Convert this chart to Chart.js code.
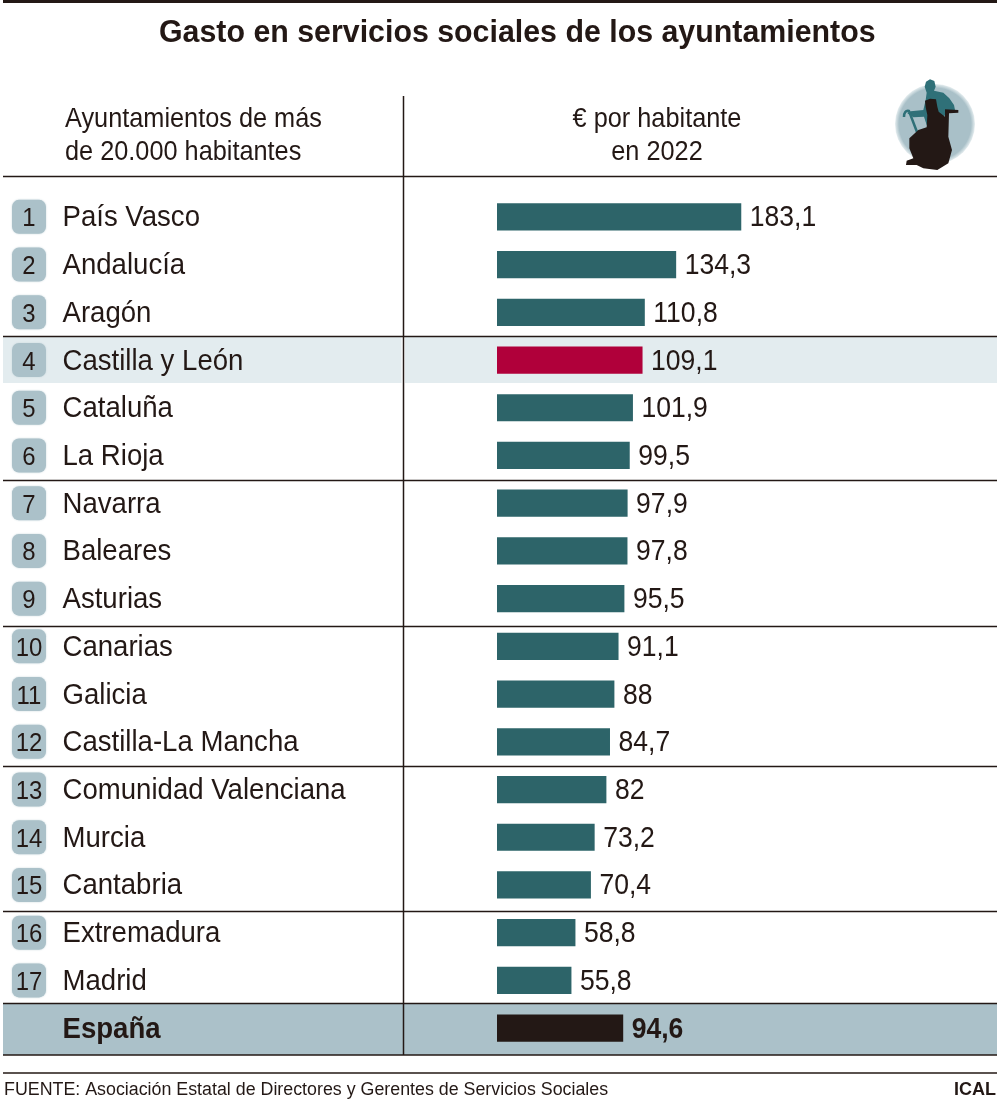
<!DOCTYPE html>
<html>
<head>
<meta charset="utf-8">
<title>Gasto en servicios sociales de los ayuntamientos</title>
<script src="https://cdn.jsdelivr.net/npm/chart.js@4"></script>
<style>
  html, body { margin: 0; padding: 0; background: #fff; }
  #wrap { position: relative; width: 1000px; height: 1103px; }
</style>
</head>
<body>
<div id="wrap"><canvas id="bar-chart" width="1000" height="1103"></canvas></div>
<script>
let ranks = ["1","2","3","4","5","6","7","8","9","10","11","12","13","14","15","16","17",""];
let regions = ["País Vasco","Andalucía","Aragón","Castilla y León","Cataluña","La Rioja","Navarra","Baleares","Asturias","Canarias","Galicia","Castilla-La Mancha","Comunidad Valenciana","Murcia","Cantabria","Extremadura","Madrid","España"];
let gasto = [183.1,134.3,110.8,109.1,101.9,99.5,97.9,97.8,95.5,91.1,88,84.7,82,73.2,70.4,58.8,55.8,94.6];

let teal = "#2d6469";
let red = "#b0003a";
let black = "#231815";
let band = "#abc1c9";
let pale = "#e3ecef";
let fontName = '"Liberation Sans", Arial, sans-serif';

let barColors = regions.map((r) => {
  if (r === "Castilla y León") return red;
  if (r === "España") return black;
  return teal;
});

function formatValue(v) {
  return String(v).replace(".", ",");
}

// the original type is a bit narrower than Liberation Sans
function fitText(ctx, text, x, y, squeeze) {
  ctx.fillText(text, x, y, ctx.measureText(text).width * squeeze);
}

function hline(ctx, y, w) {
  ctx.strokeStyle = black;
  ctx.lineWidth = w;
  ctx.beginPath();
  ctx.moveTo(3, y);
  ctx.lineTo(997, y);
  ctx.stroke();
}

function shape(ctx, pts) {
  ctx.beginPath();
  pts.forEach((p, i) => {
    let x = 880 + p[0] / 3;
    let y = 70 + p[1] / 3;
    if (i === 0) ctx.moveTo(x, y);
    else ctx.lineTo(x, y);
  });
  ctx.closePath();
  ctx.fill();
}

function drawIcon(ctx) {
  let grad = ctx.createRadialGradient(935, 124, 30, 935, 124, 40);
  grad.addColorStop(0, "#a9c0c8");
  grad.addColorStop(0.6, "#a9c0c8");
  grad.addColorStop(1, "#e6eef0");
  ctx.fillStyle = grad;
  ctx.beginPath();
  ctx.arc(935, 124, 40, 0, Math.PI * 2);
  ctx.fill();

  // person pushing the chair
  ctx.fillStyle = "#2f7078";
  shape(ctx, [[138,35],[150,28],[163,33],[167,50],[162,62],[190,68],[208,85],[222,105],[226,125],[200,128],[185,150],[140,165],[132,140],[100,142],[82,130],[92,124],[130,120],[137,90],[140,68],[134,50]]);

  // cane
  ctx.strokeStyle = "#2f7078";
  ctx.lineWidth = 2.5;
  ctx.beginPath();
  ctx.moveTo(904, 117);
  ctx.quadraticCurveTo(904, 110, 909, 111);
  ctx.lineTo(917, 132);
  ctx.stroke();

  // person in the wheelchair
  ctx.fillStyle = black;
  shape(ctx, [[135,92],[150,86],[168,88],[172,110],[176,125],[195,140],[195,118],[235,120],[235,128],[207,130],[205,200],[216,240],[205,280],[172,300],[130,295],[110,285],[78,285],[80,272],[100,265],[88,235],[88,205],[115,180],[140,172],[142,135],[137,112]]);
}

let tablePlugin = {
  id: "tablePlugin",
  beforeDraw(chart) {
    let ctx = chart.ctx;
    ctx.save();
    // bands behind the rows
    ctx.fillStyle = pale;
    ctx.fillRect(3, 337, 398.5, 46);
    ctx.fillRect(405, 337, 592, 46);
    ctx.fillStyle = band;
    ctx.fillRect(3, 1004, 994, 51);

    ctx.fillStyle = black;
    ctx.fillRect(3, 0, 994, 3);

    hline(ctx, 176.5, 1.5);
    [336.5, 480.5, 626.5, 766.5, 911.5].forEach((y) => hline(ctx, y, 1.5));
    hline(ctx, 1003.5, 1.5);
    hline(ctx, 1055, 1.5);
    hline(ctx, 1073, 1.5);

    ctx.lineWidth = 1.5;
    ctx.beginPath();
    ctx.moveTo(403.5, 96);
    ctx.lineTo(403.5, 1055);
    ctx.stroke();

    // rank badges
    let yScale = chart.scales.y;
    ranks.forEach((rank, i) => {
      if (!rank) return;
      let y = yScale.getPixelForValue(i);
      ctx.save();
      ctx.shadowColor = "#c5d5da";
      ctx.shadowBlur = 2;
      ctx.fillStyle = band;
      ctx.beginPath();
      ctx.roundRect(12, y - 17, 34, 34, 7);
      ctx.fill();
      ctx.restore();
      ctx.fillStyle = black;
      ctx.font = "26px " + fontName;
      ctx.textAlign = "center";
      ctx.textBaseline = "alphabetic";
      fitText(ctx, rank, 29, y + 9.5, 0.92);
    });
    drawIcon(ctx);
    ctx.restore();
  },
  afterDraw(chart) {
    let ctx = chart.ctx;
    let yScale = chart.scales.y;
    ctx.save();
    ctx.fillStyle = black;
    ctx.textBaseline = "alphabetic";

    ctx.textAlign = "left";
    ctx.font = "bold 32px " + fontName;
    fitText(ctx, "Gasto en servicios sociales de los ayuntamientos", 159, 41.5, 0.948);

    ctx.font = "27.5px " + fontName;
    fitText(ctx, "Ayuntamientos de más", 65, 127, 0.92);
    fitText(ctx, "de 20.000 habitantes", 65, 160, 0.92);
    ctx.textAlign = "center";
    fitText(ctx, "€ por habitante", 657, 127, 0.92);
    fitText(ctx, "en 2022", 657, 160, 0.92);

    ctx.textAlign = "left";
    ctx.font = "18px " + fontName;
    fitText(ctx, "FUENTE: Asociación Estatal de Directores y Gerentes de Servicios Sociales", 4, 1095, 0.99);
    ctx.textAlign = "right";
    ctx.font = "bold 18px " + fontName;
    ctx.fillText("ICAL", 996, 1095);

    // region names and value labels
    let meta = chart.getDatasetMeta(0);
    meta.data.forEach((bar, i) => {
      let isTotal = regions[i] === "España";
      ctx.textAlign = "left";
      ctx.font = (isTotal ? "bold " : "") + "29.5px " + fontName;
      fitText(ctx, regions[i], 62.5, yScale.getPixelForValue(i) + 9.5, 0.935);
      ctx.font = (isTotal ? "bold " : "") + "30px " + fontName;
      fitText(ctx, formatValue(gasto[i]), bar.x + 8.5, bar.y + 9.5, 0.885);
    });
    ctx.restore();
  },
};

new Chart(document.getElementById("bar-chart"), {
  type: "bar",
  data: {
    labels: regions,
    datasets: [
      {
        data: gasto,
        backgroundColor: barColors,
        categoryPercentage: 1,
        barPercentage: 0.57,
      },
    ],
  },
  options: {
    indexAxis: "y",
    responsive: false,
    animation: false,
    layout: { padding: { left: 497, right: 3, top: 193, bottom: 51 } },
    plugins: { legend: { display: false }, tooltip: { enabled: false } },
    scales: {
      x: { display: false, min: 0, max: 374.8 },
      y: { display: false },
    },
  },
  plugins: [tablePlugin],
});
</script>
</body>
</html>
